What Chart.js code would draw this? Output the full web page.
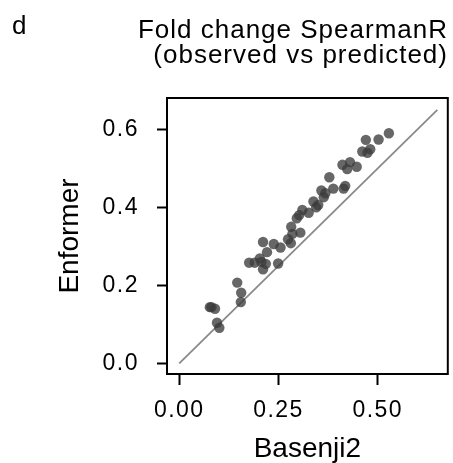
<!DOCTYPE html>
<html>
<head>
<meta charset="utf-8">
<script src="https://cdn.jsdelivr.net/npm/chart.js@4"></script>
<style>
  html, body { margin: 0; padding: 0; background: #fff; }
  #wrap { position: relative; width: 453px; height: 463px; font-family: "Liberation Sans", Arial, sans-serif; color: #000; }
  #panel { position: absolute; left: 12px; top: 12px; font-size: 26px; line-height: 26px; }
  #title { position: absolute; right: 5px; top: 17px; font-size: 26px; line-height: 25px; text-align: right; letter-spacing: 1px; }
  #chart { position: absolute; left: 0; top: 0; }
</style>
</head>
<body>
<div id="wrap">
  <canvas id="chart" width="453" height="463"></canvas>
  <div id="panel">d</div>
  <div id="title">Fold change SpearmanR<br>(observed vs predicted)</div>
</div>
<script>
// Spearman R per sample: Basenji2 (x) vs Enformer (y)
const basenji2 = [0.528, 0.502, 0.470, 0.481, 0.461, 0.474, 0.447, 0.430, 0.411, 0.423,
                  0.378, 0.388, 0.418, 0.414, 0.358, 0.368, 0.364, 0.338, 0.350, 0.345,
                  0.326, 0.310, 0.302, 0.296, 0.282, 0.305, 0.285, 0.274, 0.281, 0.211,
                  0.238, 0.255, 0.221, 0.249, 0.176, 0.190, 0.207, 0.218, 0.211, 0.146,
                  0.156, 0.155, 0.081, 0.090, 0.095, 0.101, 0.203, 0.077];
const enformer = [0.590, 0.574, 0.573, 0.549, 0.543, 0.540, 0.504, 0.516, 0.509, 0.498,
                  0.477, 0.448, 0.455, 0.448, 0.443, 0.436, 0.426, 0.415, 0.406, 0.400,
                  0.386, 0.393, 0.380, 0.372, 0.350, 0.335, 0.332, 0.318, 0.308, 0.311,
                  0.306, 0.297, 0.285, 0.256, 0.258, 0.258, 0.260, 0.255, 0.241, 0.207,
                  0.181, 0.157, 0.144, 0.140, 0.104, 0.091, 0.269, 0.144];
// identity line
const diagX = [0, 0.65];
const diagY = [0, 0.65];
const xTicks = [0, 0.25, 0.5];
const yTicks = [0, 0.2, 0.4, 0.6];

const font = "'Liberation Sans', Arial, sans-serif";

const boxPlugin = {
  id: "box",
  beforeDatasetsDraw(chart) {
    const a = chart.chartArea, ctx = chart.ctx;
    ctx.save();
    ctx.strokeStyle = "#000";
    ctx.lineWidth = 2;
    ctx.strokeRect(a.left, a.top, a.right - a.left, a.bottom - a.top);
    ctx.restore();
  },
  afterDatasetsDraw(chart) {
    chart.ctx.letterSpacing = "1.5px"; // tick labels are drawn after this (ticks.z = 1)
  },
  afterDraw(chart) {
    chart.ctx.letterSpacing = "0px";
  }
};

new Chart(document.getElementById("chart").getContext("2d"), {
  type: "scatter",
  data: {
    datasets: [
      {
        data: basenji2.map((x, i) => ({ x: x, y: enformer[i] })),
        backgroundColor: "rgba(60, 60, 60, 0.78)",
        borderWidth: 0,
        pointRadius: 5.2,
        order: 1
      },
      {
        type: "line",
        data: diagX.map((x, i) => ({ x: x, y: diagY[i] })),
        borderColor: "#8a8a8a",
        borderWidth: 1.8,
        pointRadius: 0,
        fill: false,
        order: 2
      }
    ]
  },
  options: {
    responsive: false,
    animation: false,
    events: [],
    layout: { padding: { top: 98, right: 4, left: 0, bottom: 0 } },
    plugins: { legend: { display: false }, tooltip: { enabled: false } },
    scales: {
      x: {
        type: "linear",
        min: -0.0309,
        max: 0.6764,
        afterBuildTicks: s => { s.ticks = xTicks.map(v => ({ value: v })); },
        afterFit: s => { s.height = 89; },
        border: { display: false },
        grid: { drawOnChartArea: false, drawTicks: true, tickLength: 11, tickWidth: 2, tickColor: "#000" },
        ticks: { z: 1, padding: 12, color: "#000", font: { family: font, size: 23 },
                 maxRotation: 0, callback: v => v.toFixed(2) },
        title: { display: true, text: "Basenji2", color: "#000", padding: { bottom: -2 },
                 font: { family: font, size: 28, lineHeight: 1.1 } }
      },
      y: {
        type: "linear",
        min: -0.0274,
        max: 0.6803,
        afterBuildTicks: s => { s.ticks = yTicks.map(v => ({ value: v })); },
        afterFit: s => { s.width = 167; },
        border: { display: false },
        grid: { drawOnChartArea: false, drawTicks: true, tickLength: 10, tickWidth: 2, tickColor: "#000" },
        ticks: { z: 1, padding: 18, color: "#000", font: { family: font, size: 23 },
                 callback: v => v.toFixed(1) },
        title: { display: true, text: "Enformer", color: "#000", padding: { top: 55 },
                 font: { family: font, size: 28, lineHeight: 1.1 } }
      }
    }
  },
  plugins: [boxPlugin]
});
</script>
</body>
</html>
